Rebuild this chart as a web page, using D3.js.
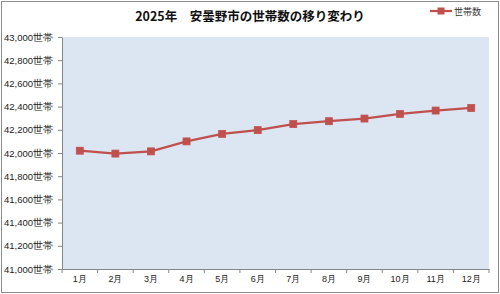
<!DOCTYPE html>
<html>
<head>
<meta charset="utf-8">
<script src="https://cdn.jsdelivr.net/npm/d3@7"></script>
<style>
  body { margin: 0; background: #fff; }
  svg { display: block; font-family: "Noto Sans CJK JP", sans-serif; }
</style>
</head>
<body>
<div id="chart"></div>
<script>
var months = ["1月", "2月", "3月", "4月", "5月", "6月", "7月", "8月", "9月", "10月", "11月", "12月"];
var households = [42020, 41995, 42014, 42100, 42165, 42197, 42249, 42274, 42297, 42337, 42366, 42388];
var yTicks = [41000, 41200, 41400, 41600, 41800, 42000, 42200, 42400, 42600, 42800, 43000];
var seriesName = "世帯数";
var title = "2025年\u3000安曇野市の世帯数の移り変わり";

var width = 500, height = 294;
var margin = {top: 37, right: 11, bottom: 25, left: 62};
var chartWidth = width - margin.left - margin.right,
    chartHeight = height - margin.top - margin.bottom;

var svg = d3.select("#chart").append("svg")
    .attr("width", width)
    .attr("height", height);

// outer border
svg.append("rect")
    .attr("x", 1.5).attr("y", 1.5)
    .attr("width", width - 3).attr("height", height - 3)
    .attr("fill", "#fff")
    .attr("stroke", "#8c8c8c");

var chart = svg.append("g")
    .attr("transform", "translate(" + margin.left + "," + margin.top + ")");

var x = d3.scaleBand()
    .domain(months)
    .range([0, chartWidth]);

var y = d3.scaleLinear()
    .domain([41000, 43000])
    .range([chartHeight, 0]);

chart.append("rect")
    .attr("width", chartWidth)
    .attr("height", chartHeight)
    .attr("fill", "#dce6f2");

var fmt = d3.format(",");

var yAxis = d3.axisLeft(y)
    .tickValues(yTicks)
    .tickFormat(function(d){ return fmt(d) + "世帯"; })
    .tickSize(4)
    .tickSizeOuter(0);

var gy = chart.append("g").call(yAxis);
gy.select(".domain").attr("stroke", "#868686");
gy.selectAll(".tick line").attr("stroke", "#868686");
gy.selectAll(".tick text")
    .attr("x", -9)
    .attr("fill", "#222")
    .style("font-size", "9.5px");

var xAxis = d3.axisBottom(x).tickSize(0).tickSizeOuter(0);
var gx = chart.append("g")
    .attr("transform", "translate(0," + chartHeight + ")")
    .call(xAxis);
gx.select(".domain").attr("stroke", "#868686");
gx.selectAll(".tick text")
    .attr("y", 7)
    .attr("fill", "#222")
    .style("font-size", "9px");

// category boundary ticks
chart.append("g")
    .selectAll("line")
    .data(months.concat([null]))
    .enter().append("line")
    .attr("x1", function(d, i){ return i * x.step(); })
    .attr("x2", function(d, i){ return i * x.step(); })
    .attr("y1", chartHeight)
    .attr("y2", chartHeight + 4)
    .attr("stroke", "#868686");

var line = d3.line()
    .x(function(d, i){ return x(months[i]) + x.bandwidth() / 2; })
    .y(function(d){ return y(d); });

chart.append("path")
    .datum(households)
    .attr("d", line)
    .attr("fill", "none")
    .attr("stroke", "#c0504d")
    .attr("stroke-width", 2.25);

var m = 7;
chart.selectAll("rect.pt")
    .data(households)
    .enter().append("rect")
    .attr("class", "pt")
    .attr("x", function(d, i){ return x(months[i]) + x.bandwidth() / 2 - m / 2; })
    .attr("y", function(d){ return y(d) - m / 2; })
    .attr("width", m)
    .attr("height", m)
    .attr("fill", "#c0504d")
    .attr("stroke", "#c0504d")
    .attr("stroke-width", 0.75);

// title
svg.append("text")
    .attr("x", 250)
    .attr("y", 21)
    .attr("text-anchor", "middle")
    .attr("font-weight", "bold")
    .attr("fill", "#111")
    .style("font-size", "12.5px")
    .text(title);

// legend
var lg = svg.append("g").attr("transform", "translate(430,11)");
lg.append("line")
    .attr("x1", 0).attr("x2", 22)
    .attr("stroke", "#c0504d").attr("stroke-width", 2.25);
lg.append("rect")
    .attr("x", 11 - m / 2).attr("y", -m / 2)
    .attr("width", m).attr("height", m)
    .attr("fill", "#c0504d");
lg.append("text")
    .attr("x", 24).attr("y", 3.5)
    .attr("fill", "#333")
    .style("font-size", "9px")
    .text(seriesName);
</script>
</body>
</html>
